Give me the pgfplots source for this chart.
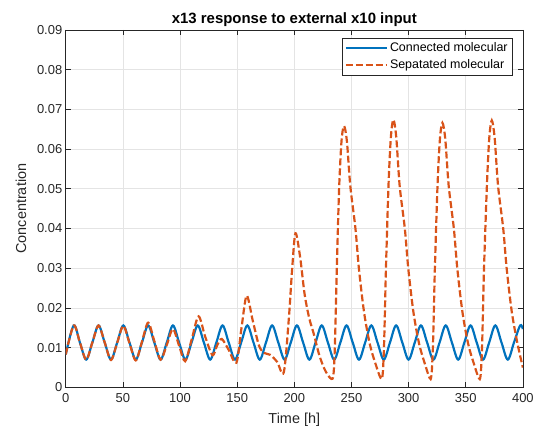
\documentclass[border=0pt]{standalone}
\usepackage{fontspec}
\setmainfont{Liberation Sans}
\usepackage{pgfplots}
\pgfplotsset{compat=1.18}
\definecolor{mblue}{RGB}{0,114,189}
\definecolor{morange}{RGB}{217,83,25}
\definecolor{axgray}{RGB}{38,38,38}
\definecolor{gridgray}{RGB}{228,228,228}
\begin{document}
\begin{tikzpicture}
\begin{axis}[
  name=ax,
  scale only axis,
  width=459pt, height=359pt,
  xmin=0, xmax=400, ymin=0, ymax=0.09,
  xtick={0,50,...,400},
  ytick={0,0.01,0.02,0.03,0.04,0.05,0.06,0.07,0.08,0.09},
  yticklabels={0,0.01,0.02,0.03,0.04,0.05,0.06,0.07,0.08,0.09},
  scaled y ticks=false,
  /pgf/number format/assume math mode=true,
  tick label style={font=\fontsize{13}{15}\selectfont, text=axgray},
  xticklabel style={yshift=-3pt},
  tick align=inside, tick pos=both,
  major tick length=5pt,
  axis line style={axgray, line width=0.6pt},
  tick style={axgray, line width=0.6pt},
  grid=major,
  major grid style={gridgray, line width=0.6pt},
  title={\fontsize{15}{17}\selectfont\bfseries x13 response to external x10 input},
  title style={yshift=-6pt, text=black},
  xlabel={Time [h]}, ylabel={Concentration},
  label style={font=\fontsize{14.5}{16}\selectfont, text=axgray},
  xlabel style={yshift=-3pt},
  ylabel style={yshift=4pt},
  legend style={at={(0.978,0.978)}, anchor=north east, draw=axgray,
    font=\fontsize{12.5}{14}\selectfont, inner sep=3pt, row sep=2pt,
    legend cell align=left},
  legend image code/.code={\draw[#1] (0cm,0cm) -- (1.45cm,0cm);},
]
\addplot[mblue, line width=2.2pt, smooth, tension=0.55] coordinates {
(0,0.0083) (7.0,0.0156) (12.4,0.0113) (17.9,0.0070) (23.3,0.0113)
(28.7,0.0156) (34.1,0.0113) (39.6,0.0070) (45.0,0.0113)
(50.4,0.0156) (55.8,0.0113) (61.3,0.0070) (66.7,0.0113)
(72.1,0.0156) (77.5,0.0113) (83.0,0.0070) (88.4,0.0113)
(93.8,0.0156) (99.2,0.0113) (104.7,0.0070) (110.1,0.0113)
(115.5,0.0156) (120.9,0.0113) (126.4,0.0070) (131.8,0.0113)
(137.2,0.0156) (142.6,0.0113) (148.1,0.0070) (153.5,0.0113)
(158.9,0.0156) (164.3,0.0113) (169.8,0.0070) (175.2,0.0113)
(180.6,0.0156) (186.0,0.0113) (191.5,0.0070) (196.9,0.0113)
(202.3,0.0156) (207.7,0.0113) (213.2,0.0070) (218.6,0.0113)
(224.0,0.0156) (229.4,0.0113) (234.9,0.0070) (240.3,0.0113)
(245.7,0.0156) (251.1,0.0113) (256.6,0.0070) (262.0,0.0113)
(267.4,0.0156) (272.8,0.0113) (278.3,0.0070) (283.7,0.0113)
(289.1,0.0156) (294.5,0.0113) (300.0,0.0070) (305.4,0.0113)
(310.8,0.0156) (316.2,0.0113) (321.7,0.0070) (327.1,0.0113)
(332.5,0.0156) (337.9,0.0113) (343.4,0.0070) (348.8,0.0113)
(354.2,0.0156) (359.6,0.0113) (365.1,0.0070) (370.5,0.0113)
(375.9,0.0156) (381.3,0.0113) (386.8,0.0070) (392.2,0.0113)
(397.6,0.0156) (400,0.0147)
};
\addlegendentry{Connected molecular}
\addplot[morange, line width=2.2pt, dash pattern=on 7pt off 3pt, smooth, tension=0.5] coordinates {
(0,0.0083) (7.0,0.0156) (12.4,0.0113) (17.9,0.0070) (23.3,0.0113)
(28.7,0.0156) (34.1,0.0113) (39.6,0.0069) (45.0,0.0112)
(50.4,0.0155) (55.8,0.0111) (61.3,0.0068) (66.7,0.0115)
(72.1,0.0163) (77.5,0.0117) (83.0,0.0070) (88.4,0.0107)
(93.8,0.0147) (99.2,0.0105) (104.5,0.0066) (110.3,0.0122)
(116.2,0.0179) (122.0,0.0128) (128.4,0.0081) (132.5,0.0106)
(136.5,0.0122) (142.5,0.0095) (149.3,0.0062) (153.8,0.0150)
(158.3,0.0231) (163.5,0.0170) (169.0,0.0106) (173.5,0.0087)
(179.0,0.0082) (185.0,0.0064) (190.8,0.0038) (195.2,0.0173)
(198.1,0.0298) (201.0,0.0388) (205.0,0.0330) (209.0,0.0235)
(213.0,0.0175) (217.0,0.0135) (222.0,0.0080) (227.5,0.0040)
(233.5,0.0022) (235.2,0.0080) (236.2,0.0180) (237.2,0.0300)
(239.2,0.0500) (241.3,0.0620) (243.5,0.0658) (246.0,0.0620)
(249.0,0.0507) (253.5,0.0400) (256.5,0.0300) (261.0,0.0190)
(266.0,0.0110) (271.0,0.0060) (276.5,0.0021)
(278.2,0.0080) (279.2,0.0180) (280.2,0.0300) (282.4,0.0507)
(284.5,0.0630) (286.7,0.0674) (289.2,0.0630) (292.2,0.0507)
(296.7,0.0400) (299.7,0.0300) (304.2,0.0190) (309.2,0.0110)
(314.2,0.0060) (319.3,0.0021)
(321.0,0.0080) (322.0,0.0180) (323.0,0.0300) (325.3,0.0507)
(327.4,0.0625) (329.6,0.0666) (332.1,0.0625) (335.1,0.0507)
(339.6,0.0400) (342.6,0.0300) (347.1,0.0190) (352.1,0.0110)
(357.1,0.0060) (362.3,0.0021)
(364.0,0.0080) (365.0,0.0180) (366.0,0.0300) (368.5,0.0507)
(370.6,0.0628) (372.8,0.0672) (375.3,0.0628) (378.3,0.0507)
(382.8,0.0400) (385.8,0.0300) (390.3,0.0190) (395.3,0.0110)
(400.0,0.0050)
};
\addlegendentry{Sepatated molecular}
\end{axis}
\path ([xshift=-66pt,yshift=-43pt]ax.south west) rectangle ([xshift=12pt,yshift=30pt]ax.north east);
\end{tikzpicture}
\end{document}
